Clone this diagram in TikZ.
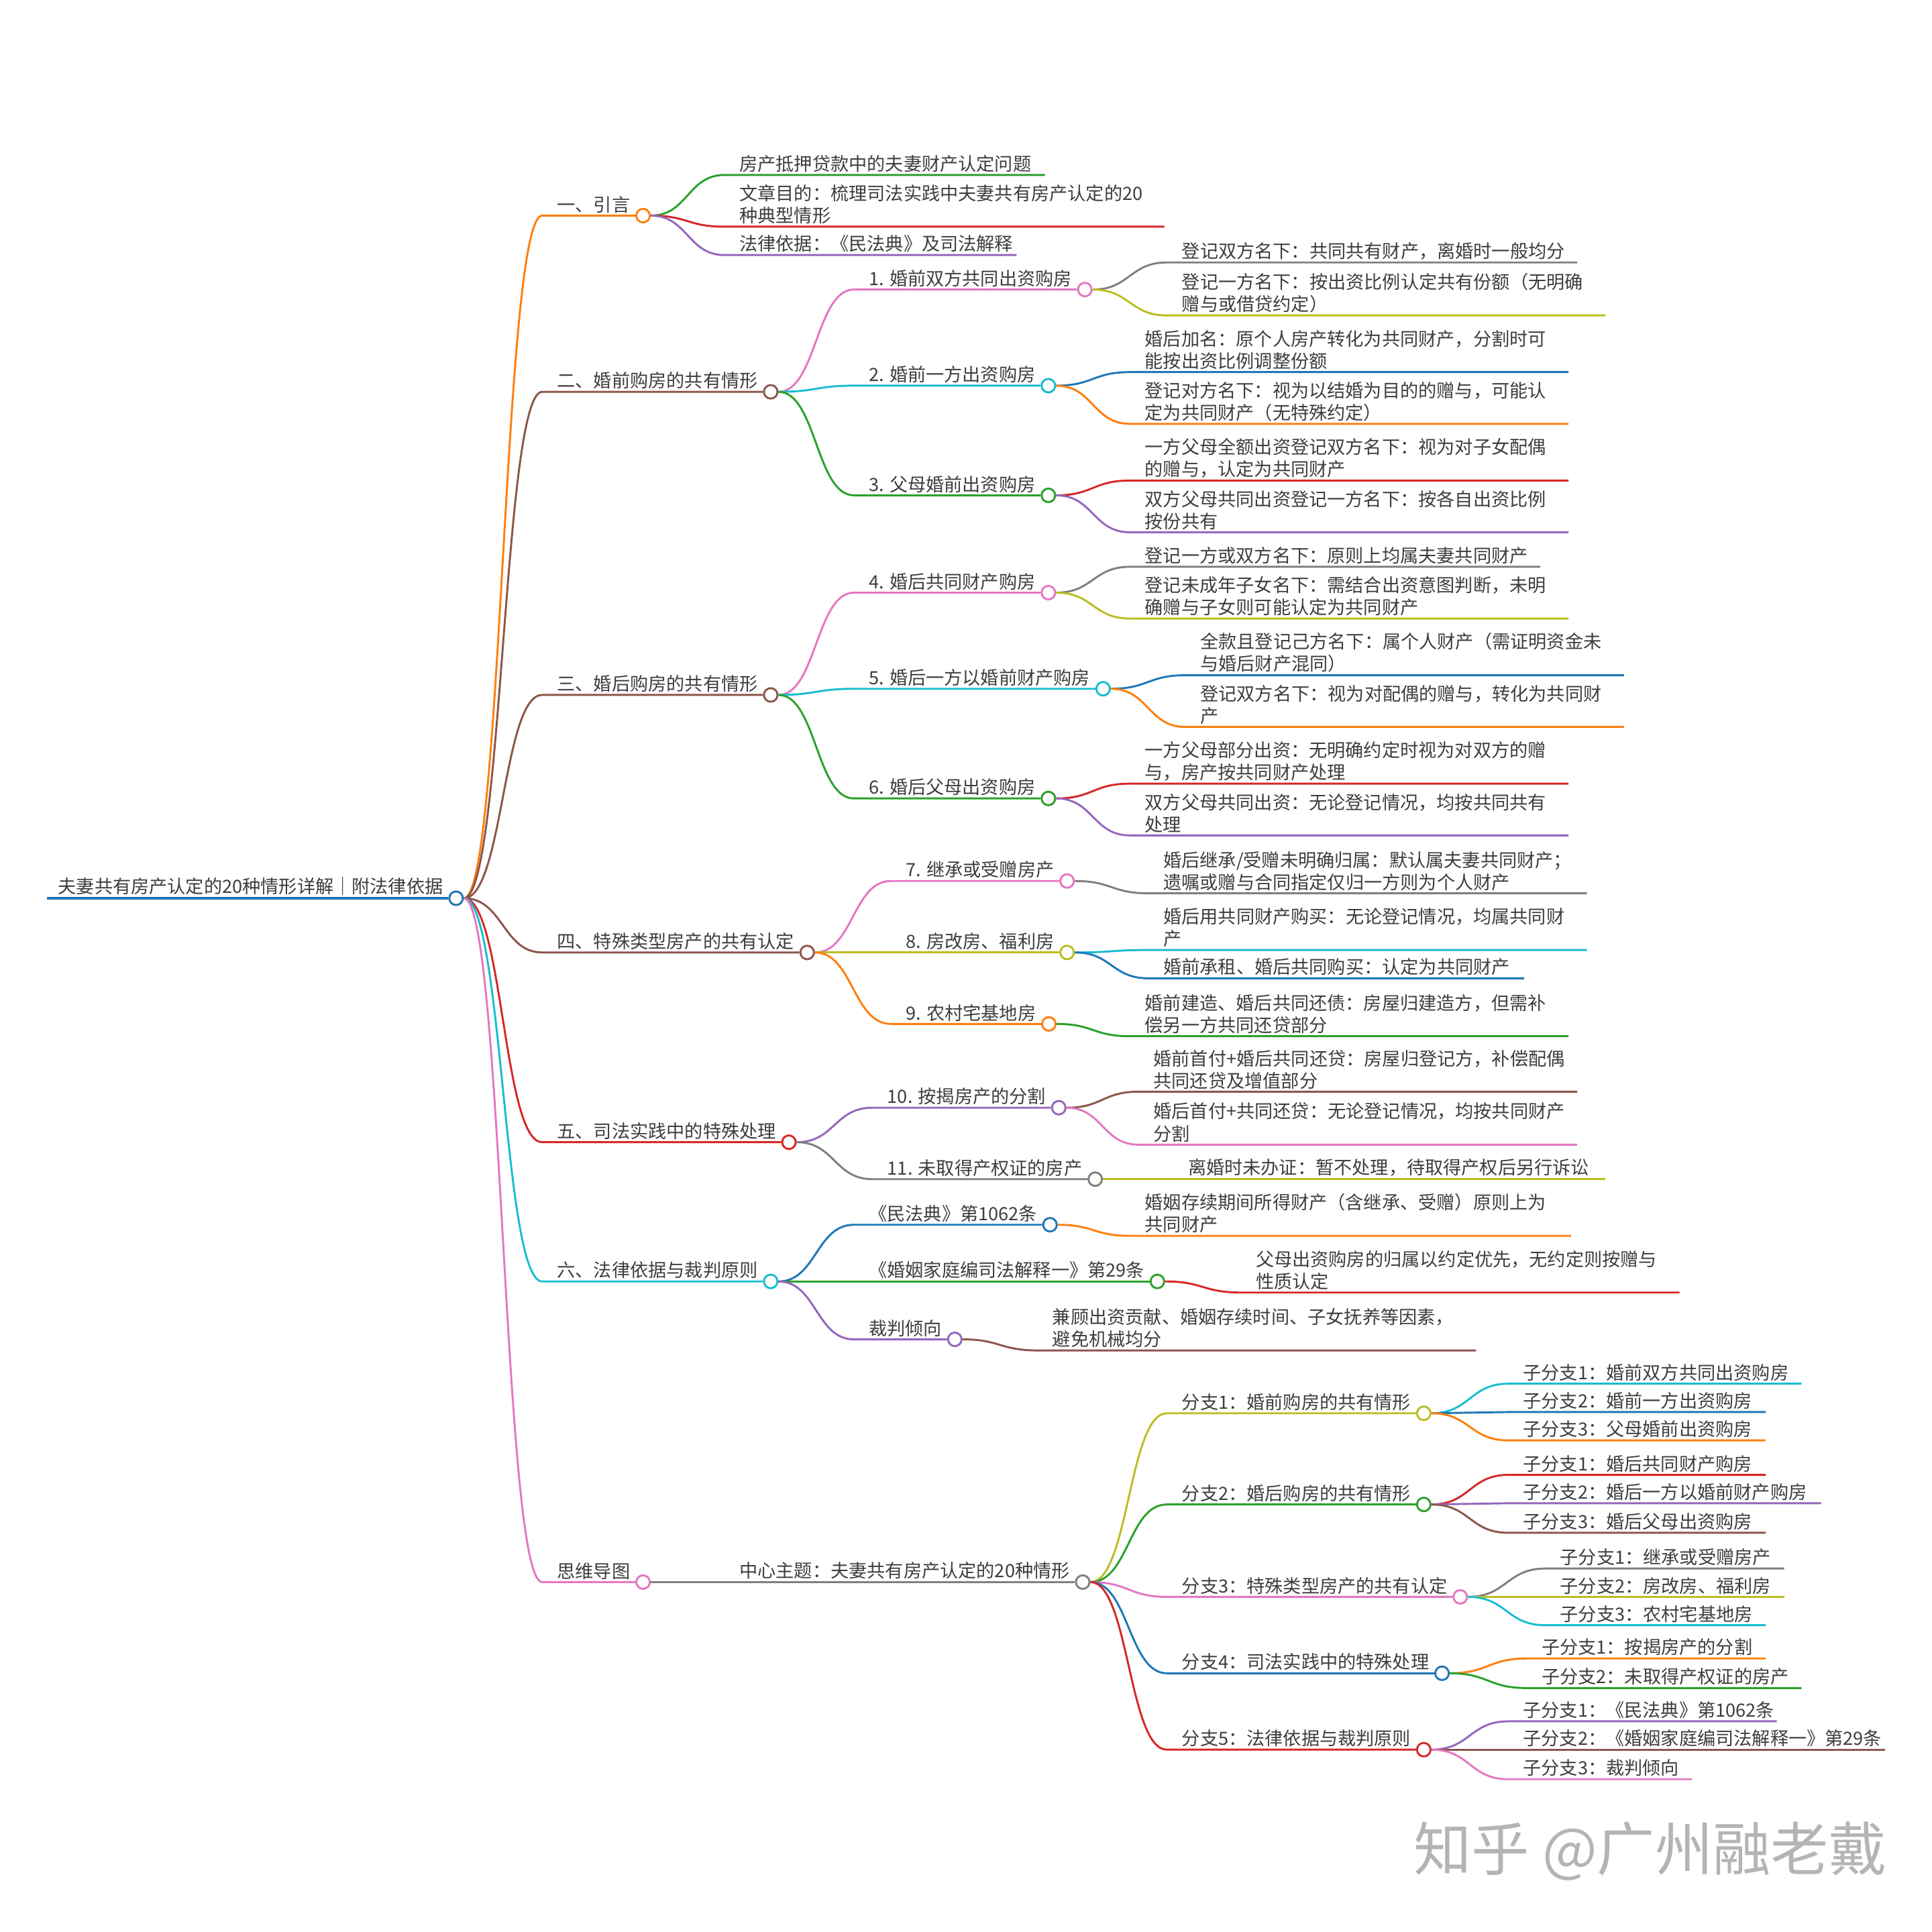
\documentclass[tikz,border=0pt]{standalone}
\usepackage{fontspec}
\setmainfont{Noto Sans CJK SC}
\usepackage{xcolor}
\usepackage{tikz}
\usetikzlibrary{calc}

\definecolor{cblue}{HTML}{1F77B4}
\definecolor{corange}{HTML}{FF7F0E}
\definecolor{cgreen}{HTML}{2CA02C}
\definecolor{cred}{HTML}{D62728}
\definecolor{cpurple}{HTML}{9467BD}
\definecolor{cbrown}{HTML}{8C564B}
\definecolor{cpink}{HTML}{E377C2}
\definecolor{cgray}{HTML}{7F7F7F}
\definecolor{colive}{HTML}{BCBD22}
\definecolor{ccyan}{HTML}{17BECF}
\definecolor{ink}{HTML}{3D3D3D}
\definecolor{wmark}{HTML}{B4B4B4}

\begin{document}
\begin{tikzpicture}[x=1pt,y=-1pt,
lbl/.style={anchor=south west, inner sep=0pt, align=left, text=ink, font=\fontsize{14.8}{18}\selectfont},
dot/.style={circle, draw, fill=white, inner sep=0pt, minimum size=11pt, line width=1.6pt, anchor=west, xshift=4pt},
lnk/.style={line width=1.6pt, to path={let \p1=(\tikztostart), \p2=(\tikztotarget) in .. controls ({(\x1+\x2)/2},\y1) and ({(\x1+\x2)/2},\y2) .. (\tikztotarget)}}]
\useasboundingbox (0,0) rectangle (1568,1568);

\coordinate (p0) at (38,729);
\node[lbl] (t0) at ([shift={(9,-2)}]p0) {夫妻共有房产认定的20种情形详解｜附法律依据};
\node[dot,draw=cblue] (s0) at (t0.east |- p0) {};
\draw[cblue,line width=2.2pt] (p0) -- (s0.west);

\coordinate (p1) at (440,175);
\node[lbl] (t1) at ([shift={(12,-2)}]p1) {一、引言};
\node[dot,draw=corange] (s1) at (t1.east |- p1) {};
\draw[lnk,corange] (s0.east) to (p1) -- (s1.west);

\coordinate (p1a) at (588,142); \coordinate (e1a) at (848,142);
\node[lbl] (t1a) at ([shift={(12,-2)}]p1a) {房产抵押贷款中的夫妻财产认定问题};
\draw[lnk,cgreen] (s1.east) to (p1a) -- (e1a);
\coordinate (p1b) at (588,184); \coordinate (e1b) at (945,184);
\node[lbl] (t1b) at ([shift={(12,-2)}]p1b) {文章目的：梳理司法实践中夫妻共有房产认定的20\\种典型情形};
\draw[lnk,cred] (s1.east) to (p1b) -- (e1b);
\coordinate (p1c) at (588,207); \coordinate (e1c) at (825,207);
\node[lbl] (t1c) at ([shift={(12,-2)}]p1c) {法律依据：《民法典》及司法解释};
\draw[lnk,cpurple] (s1.east) to (p1c) -- (e1c);

\coordinate (p2) at (440,318);
\node[lbl] (t2) at ([shift={(12,-2)}]p2) {二、婚前购房的共有情形};
\node[dot,draw=cbrown] (s2) at (t2.east |- p2) {};
\draw[lnk,cbrown] (s0.east) to (p2) -- (s2.west);

\coordinate (p2a) at (693,235);
\node[lbl] (t2a) at ([shift={(12,-2)}]p2a) {1. 婚前双方共同出资购房};
\node[dot,draw=cpink] (s2a) at (t2a.east |- p2a) {};
\draw[lnk,cpink] (s2.east) to (p2a) -- (s2a.west);
\coordinate (p2a1) at (947,213); \coordinate (e2a1) at (1280,213);
\node[lbl] (t2a1) at ([shift={(12,-2)}]p2a1) {登记双方名下：共同共有财产，离婚时一般均分};
\draw[lnk,cgray] (s2a.east) to (p2a1) -- (e2a1);
\coordinate (p2a2) at (947,256); \coordinate (e2a2) at (1303,256);
\node[lbl] (t2a2) at ([shift={(12,-2)}]p2a2) {登记一方名下：按出资比例认定共有份额（无明确\\赠与或借贷约定）};
\draw[lnk,colive] (s2a.east) to (p2a2) -- (e2a2);

\coordinate (p2b) at (693,313);
\node[lbl] (t2b) at ([shift={(12,-2)}]p2b) {2. 婚前一方出资购房};
\node[dot,draw=ccyan] (s2b) at (t2b.east |- p2b) {};
\draw[lnk,ccyan] (s2.east) to (p2b) -- (s2b.west);
\coordinate (p2b1) at (917,302); \coordinate (e2b1) at (1273,302);
\node[lbl] (t2b1) at ([shift={(12,-2)}]p2b1) {婚后加名：原个人房产转化为共同财产，分割时可\\能按出资比例调整份额};
\draw[lnk,cblue] (s2b.east) to (p2b1) -- (e2b1);
\coordinate (p2b2) at (917,344); \coordinate (e2b2) at (1273,344);
\node[lbl] (t2b2) at ([shift={(12,-2)}]p2b2) {登记对方名下：视为以结婚为目的的赠与，可能认\\定为共同财产（无特殊约定）};
\draw[lnk,corange] (s2b.east) to (p2b2) -- (e2b2);

\coordinate (p2c) at (693,402);
\node[lbl] (t2c) at ([shift={(12,-2)}]p2c) {3. 父母婚前出资购房};
\node[dot,draw=cgreen] (s2c) at (t2c.east |- p2c) {};
\draw[lnk,cgreen] (s2.east) to (p2c) -- (s2c.west);
\coordinate (p2c1) at (917,390); \coordinate (e2c1) at (1273,390);
\node[lbl] (t2c1) at ([shift={(12,-2)}]p2c1) {一方父母全额出资登记双方名下：视为对子女配偶\\的赠与，认定为共同财产};
\draw[lnk,cred] (s2c.east) to (p2c1) -- (e2c1);
\coordinate (p2c2) at (917,432); \coordinate (e2c2) at (1273,432);
\node[lbl] (t2c2) at ([shift={(12,-2)}]p2c2) {双方父母共同出资登记一方名下：按各自出资比例\\按份共有};
\draw[lnk,cpurple] (s2c.east) to (p2c2) -- (e2c2);

\coordinate (p3) at (440,564);
\node[lbl] (t3) at ([shift={(12,-2)}]p3) {三、婚后购房的共有情形};
\node[dot,draw=cbrown] (s3) at (t3.east |- p3) {};
\draw[lnk,cbrown] (s0.east) to (p3) -- (s3.west);

\coordinate (p3a) at (693,481);
\node[lbl] (t3a) at ([shift={(12,-2)}]p3a) {4. 婚后共同财产购房};
\node[dot,draw=cpink] (s3a) at (t3a.east |- p3a) {};
\draw[lnk,cpink] (s3.east) to (p3a) -- (s3a.west);
\coordinate (p3a1) at (917,460); \coordinate (e3a1) at (1250,460);
\node[lbl] (t3a1) at ([shift={(12,-2)}]p3a1) {登记一方或双方名下：原则上均属夫妻共同财产};
\draw[lnk,cgray] (s3a.east) to (p3a1) -- (e3a1);
\coordinate (p3a2) at (917,502); \coordinate (e3a2) at (1273,502);
\node[lbl] (t3a2) at ([shift={(12,-2)}]p3a2) {登记未成年子女名下：需结合出资意图判断，未明\\确赠与子女则可能认定为共同财产};
\draw[lnk,colive] (s3a.east) to (p3a2) -- (e3a2);

\coordinate (p3b) at (693,559);
\node[lbl] (t3b) at ([shift={(12,-2)}]p3b) {5. 婚后一方以婚前财产购房};
\node[dot,draw=ccyan] (s3b) at (t3b.east |- p3b) {};
\draw[lnk,ccyan] (s3.east) to (p3b) -- (s3b.west);
\coordinate (p3b1) at (962,548); \coordinate (e3b1) at (1318,548);
\node[lbl] (t3b1) at ([shift={(12,-2)}]p3b1) {全款且登记己方名下：属个人财产（需证明资金未\\与婚后财产混同）};
\draw[lnk,cblue] (s3b.east) to (p3b1) -- (e3b1);
\coordinate (p3b2) at (962,590); \coordinate (e3b2) at (1318,590);
\node[lbl] (t3b2) at ([shift={(12,-2)}]p3b2) {登记双方名下：视为对配偶的赠与，转化为共同财\\产};
\draw[lnk,corange] (s3b.east) to (p3b2) -- (e3b2);

\coordinate (p3c) at (693,648);
\node[lbl] (t3c) at ([shift={(12,-2)}]p3c) {6. 婚后父母出资购房};
\node[dot,draw=cgreen] (s3c) at (t3c.east |- p3c) {};
\draw[lnk,cgreen] (s3.east) to (p3c) -- (s3c.west);
\coordinate (p3c1) at (917,636); \coordinate (e3c1) at (1273,636);
\node[lbl] (t3c1) at ([shift={(12,-2)}]p3c1) {一方父母部分出资：无明确约定时视为对双方的赠\\与，房产按共同财产处理};
\draw[lnk,cred] (s3c.east) to (p3c1) -- (e3c1);
\coordinate (p3c2) at (917,678); \coordinate (e3c2) at (1273,678);
\node[lbl] (t3c2) at ([shift={(12,-2)}]p3c2) {双方父母共同出资：无论登记情况，均按共同共有\\处理};
\draw[lnk,cpurple] (s3c.east) to (p3c2) -- (e3c2);

\coordinate (p4) at (440,773);
\node[lbl] (t4) at ([shift={(12,-2)}]p4) {四、特殊类型房产的共有认定};
\node[dot,draw=cbrown] (s4) at (t4.east |- p4) {};
\draw[lnk,cbrown] (s0.east) to (p4) -- (s4.west);

\coordinate (p4a) at (723,715);
\node[lbl] (t4a) at ([shift={(12,-2)}]p4a) {7. 继承或受赠房产};
\node[dot,draw=cpink] (s4a) at (t4a.east |- p4a) {};
\draw[lnk,cpink] (s4.east) to (p4a) -- (s4a.west);
\coordinate (p4a1) at (932,725); \coordinate (e4a1) at (1288,725);
\node[lbl] (t4a1) at ([shift={(12,-2)}]p4a1) {婚后继承/受赠未明确归属：默认属夫妻共同财产；\\遗嘱或赠与合同指定仅归一方则为个人财产};
\draw[lnk,cgray] (s4a.east) to (p4a1) -- (e4a1);

\coordinate (p4b) at (723,773);
\node[lbl] (t4b) at ([shift={(12,-2)}]p4b) {8. 房改房、福利房};
\node[dot,draw=colive] (s4b) at (t4b.east |- p4b) {};
\draw[lnk,colive] (s4.east) to (p4b) -- (s4b.west);
\coordinate (p4b1) at (932,771); \coordinate (e4b1) at (1288,771);
\node[lbl] (t4b1) at ([shift={(12,-2)}]p4b1) {婚后用共同财产购买：无论登记情况，均属共同财\\产};
\draw[lnk,ccyan] (s4b.east) to (p4b1) -- (e4b1);
\coordinate (p4b2) at (932,794); \coordinate (e4b2) at (1237,794);
\node[lbl] (t4b2) at ([shift={(12,-2)}]p4b2) {婚前承租、婚后共同购买：认定为共同财产};
\draw[lnk,cblue] (s4b.east) to (p4b2) -- (e4b2);

\coordinate (p4c) at (723,831);
\node[lbl] (t4c) at ([shift={(12,-2)}]p4c) {9. 农村宅基地房};
\node[dot,draw=corange] (s4c) at (t4c.east |- p4c) {};
\draw[lnk,corange] (s4.east) to (p4c) -- (s4c.west);
\coordinate (p4c1) at (917,841); \coordinate (e4c1) at (1273,841);
\node[lbl] (t4c1) at ([shift={(12,-2)}]p4c1) {婚前建造、婚后共同还债：房屋归建造方，但需补\\偿另一方共同还贷部分};
\draw[lnk,cgreen] (s4c.east) to (p4c1) -- (e4c1);

\coordinate (p5) at (440,927);
\node[lbl] (t5) at ([shift={(12,-2)}]p5) {五、司法实践中的特殊处理};
\node[dot,draw=cred] (s5) at (t5.east |- p5) {};
\draw[lnk,cred] (s0.east) to (p5) -- (s5.west);

\coordinate (p5a) at (708,899);
\node[lbl] (t5a) at ([shift={(12,-2)}]p5a) {10. 按揭房产的分割};
\node[dot,draw=cpurple] (s5a) at (t5a.east |- p5a) {};
\draw[lnk,cpurple] (s5.east) to (p5a) -- (s5a.west);
\coordinate (p5a1) at (924,886); \coordinate (e5a1) at (1280,886);
\node[lbl] (t5a1) at ([shift={(12,-2)}]p5a1) {婚前首付+婚后共同还贷：房屋归登记方，补偿配偶\\共同还贷及增值部分};
\draw[lnk,cbrown] (s5a.east) to (p5a1) -- (e5a1);
\coordinate (p5a2) at (924,929); \coordinate (e5a2) at (1280,929);
\node[lbl] (t5a2) at ([shift={(12,-2)}]p5a2) {婚后首付+共同还贷：无论登记情况，均按共同财产\\分割};
\draw[lnk,cpink] (s5a.east) to (p5a2) -- (e5a2);

\coordinate (p5b) at (708,957);
\node[lbl] (t5b) at ([shift={(12,-2)}]p5b) {11. 未取得产权证的房产};
\node[dot,draw=cgray] (s5b) at (t5b.east |- p5b) {};
\draw[lnk,cgray] (s5.east) to (p5b) -- (s5b.west);
\coordinate (p5b1) at (952,957); \coordinate (e5b1) at (1303,957);
\node[lbl] (t5b1) at ([shift={(12,-2)}]p5b1) {离婚时未办证：暂不处理，待取得产权后另行诉讼};
\draw[lnk,colive] (s5b.east) to (p5b1) -- (e5b1);

\coordinate (p6) at (440,1040);
\node[lbl] (t6) at ([shift={(12,-2)}]p6) {六、法律依据与裁判原则};
\node[dot,draw=ccyan] (s6) at (t6.east |- p6) {};
\draw[lnk,ccyan] (s0.east) to (p6) -- (s6.west);

\coordinate (p6a) at (693,994);
\node[lbl] (t6a) at ([shift={(12,-2)}]p6a) {《民法典》第1062条};
\node[dot,draw=cblue] (s6a) at (t6a.east |- p6a) {};
\draw[lnk,cblue] (s6.east) to (p6a) -- (s6a.west);
\coordinate (p6a1) at (917,1003); \coordinate (e6a1) at (1275,1003);
\node[lbl] (t6a1) at ([shift={(12,-2)}]p6a1) {婚姻存续期间所得财产（含继承、受赠）原则上为\\共同财产};
\draw[lnk,corange] (s6a.east) to (p6a1) -- (e6a1);

\coordinate (p6b) at (693,1040);
\node[lbl] (t6b) at ([shift={(12,-2)}]p6b) {《婚姻家庭编司法解释一》第29条};
\node[dot,draw=cgreen] (s6b) at (t6b.east |- p6b) {};
\draw[lnk,cgreen] (s6.east) to (p6b) -- (s6b.west);
\coordinate (p6b1) at (1007,1049); \coordinate (e6b1) at (1363,1049);
\node[lbl] (t6b1) at ([shift={(12,-2)}]p6b1) {父母出资购房的归属以约定优先，无约定则按赠与\\性质认定};
\draw[lnk,cred] (s6b.east) to (p6b1) -- (e6b1);

\coordinate (p6c) at (693,1087);
\node[lbl] (t6c) at ([shift={(12,-2)}]p6c) {裁判倾向};
\node[dot,draw=cpurple] (s6c) at (t6c.east |- p6c) {};
\draw[lnk,cpurple] (s6.east) to (p6c) -- (s6c.west);
\coordinate (p6c1) at (842,1096); \coordinate (e6c1) at (1198,1096);
\node[lbl] (t6c1) at ([shift={(12,-2)}]p6c1) {兼顾出资贡献、婚姻存续时间、子女抚养等因素，\\避免机械均分};
\draw[lnk,cbrown] (s6c.east) to (p6c1) -- (e6c1);

\coordinate (p7) at (440,1284);
\node[lbl] (t7) at ([shift={(12,-2)}]p7) {思维导图};
\node[dot,draw=cpink] (s7) at (t7.east |- p7) {};
\draw[lnk,cpink] (s0.east) to (p7) -- (s7.west);

\coordinate (p7a) at (588,1284);
\node[lbl] (t7a) at ([shift={(12,-2)}]p7a) {中心主题：夫妻共有房产认定的20种情形};
\node[dot,draw=cgray] (s7a) at (t7a.east |- p7a) {};
\draw[lnk,cgray] (s7.east) to (p7a) -- (s7a.west);

\coordinate (pb1) at (947,1147);
\node[lbl] (tb1) at ([shift={(12,-2)}]pb1) {分支1：婚前购房的共有情形};
\node[dot,draw=colive] (sb1) at (tb1.east |- pb1) {};
\draw[lnk,colive] (s7a.east) to (pb1) -- (sb1.west);
\coordinate (pb1a) at (1224,1123); \coordinate (eb1a) at (1462,1123);
\node[lbl] (tb1a) at ([shift={(12,-2)}]pb1a) {子分支1：婚前双方共同出资购房};
\draw[lnk,ccyan] (sb1.east) to (pb1a) -- (eb1a);
\coordinate (pb1b) at (1224,1146); \coordinate (eb1b) at (1433,1146);
\node[lbl] (tb1b) at ([shift={(12,-2)}]pb1b) {子分支2：婚前一方出资购房};
\draw[lnk,cblue] (sb1.east) to (pb1b) -- (eb1b);
\coordinate (pb1c) at (1224,1169); \coordinate (eb1c) at (1433,1169);
\node[lbl] (tb1c) at ([shift={(12,-2)}]pb1c) {子分支3：父母婚前出资购房};
\draw[lnk,corange] (sb1.east) to (pb1c) -- (eb1c);

\coordinate (pb2) at (947,1221);
\node[lbl] (tb2) at ([shift={(12,-2)}]pb2) {分支2：婚后购房的共有情形};
\node[dot,draw=cgreen] (sb2) at (tb2.east |- pb2) {};
\draw[lnk,cgreen] (s7a.east) to (pb2) -- (sb2.west);
\coordinate (pb2a) at (1224,1197); \coordinate (eb2a) at (1433,1197);
\node[lbl] (tb2a) at ([shift={(12,-2)}]pb2a) {子分支1：婚后共同财产购房};
\draw[lnk,cred] (sb2.east) to (pb2a) -- (eb2a);
\coordinate (pb2b) at (1224,1220); \coordinate (eb2b) at (1478,1220);
\node[lbl] (tb2b) at ([shift={(12,-2)}]pb2b) {子分支2：婚后一方以婚前财产购房};
\draw[lnk,cpurple] (sb2.east) to (pb2b) -- (eb2b);
\coordinate (pb2c) at (1224,1244); \coordinate (eb2c) at (1433,1244);
\node[lbl] (tb2c) at ([shift={(12,-2)}]pb2c) {子分支3：婚后父母出资购房};
\draw[lnk,cbrown] (sb2.east) to (pb2c) -- (eb2c);

\coordinate (pb3) at (947,1296);
\node[lbl] (tb3) at ([shift={(12,-2)}]pb3) {分支3：特殊类型房产的共有认定};
\node[dot,draw=cpink] (sb3) at (tb3.east |- pb3) {};
\draw[lnk,cpink] (s7a.east) to (pb3) -- (sb3.west);
\coordinate (pb3a) at (1254,1273); \coordinate (eb3a) at (1448,1273);
\node[lbl] (tb3a) at ([shift={(12,-2)}]pb3a) {子分支1：继承或受赠房产};
\draw[lnk,cgray] (sb3.east) to (pb3a) -- (eb3a);
\coordinate (pb3b) at (1254,1296); \coordinate (eb3b) at (1448,1296);
\node[lbl] (tb3b) at ([shift={(12,-2)}]pb3b) {子分支2：房改房、福利房};
\draw[lnk,colive] (sb3.east) to (pb3b) -- (eb3b);
\coordinate (pb3c) at (1254,1319); \coordinate (eb3c) at (1433,1319);
\node[lbl] (tb3c) at ([shift={(12,-2)}]pb3c) {子分支3：农村宅基地房};
\draw[lnk,ccyan] (sb3.east) to (pb3c) -- (eb3c);

\coordinate (pb4) at (947,1358);
\node[lbl] (tb4) at ([shift={(12,-2)}]pb4) {分支4：司法实践中的特殊处理};
\node[dot,draw=cblue] (sb4) at (tb4.east |- pb4) {};
\draw[lnk,cblue] (s7a.east) to (pb4) -- (sb4.west);
\coordinate (pb4a) at (1239,1346); \coordinate (eb4a) at (1433,1346);
\node[lbl] (tb4a) at ([shift={(12,-2)}]pb4a) {子分支1：按揭房产的分割};
\draw[lnk,corange] (sb4.east) to (pb4a) -- (eb4a);
\coordinate (pb4b) at (1239,1370); \coordinate (eb4b) at (1462,1370);
\node[lbl] (tb4b) at ([shift={(12,-2)}]pb4b) {子分支2：未取得产权证的房产};
\draw[lnk,cgreen] (sb4.east) to (pb4b) -- (eb4b);

\coordinate (pb5) at (947,1420);
\node[lbl] (tb5) at ([shift={(12,-2)}]pb5) {分支5：法律依据与裁判原则};
\node[dot,draw=cred] (sb5) at (tb5.east |- pb5) {};
\draw[lnk,cred] (s7a.east) to (pb5) -- (sb5.west);
\coordinate (pb5a) at (1224,1397); \coordinate (eb5a) at (1442,1397);
\node[lbl] (tb5a) at ([shift={(12,-2)}]pb5a) {子分支1：《民法典》第1062条};
\draw[lnk,cpurple] (sb5.east) to (pb5a) -- (eb5a);
\coordinate (pb5b) at (1224,1420); \coordinate (eb5b) at (1530,1420);
\node[lbl] (tb5b) at ([shift={(12,-2)}]pb5b) {子分支2：《婚姻家庭编司法解释一》第29条};
\draw[lnk,cbrown] (sb5.east) to (pb5b) -- (eb5b);
\coordinate (pb5c) at (1224,1444); \coordinate (eb5c) at (1373,1444);
\node[lbl] (tb5c) at ([shift={(12,-2)}]pb5c) {子分支3：裁判倾向};
\draw[lnk,cpink] (sb5.east) to (pb5c) -- (eb5c);

\node[anchor=base west, inner sep=0pt, text=wmark, font=\fontsize{47}{52}\selectfont] (wm) at (1147,1518) {知乎 @广州融老戴};
\end{tikzpicture}
\end{document}
